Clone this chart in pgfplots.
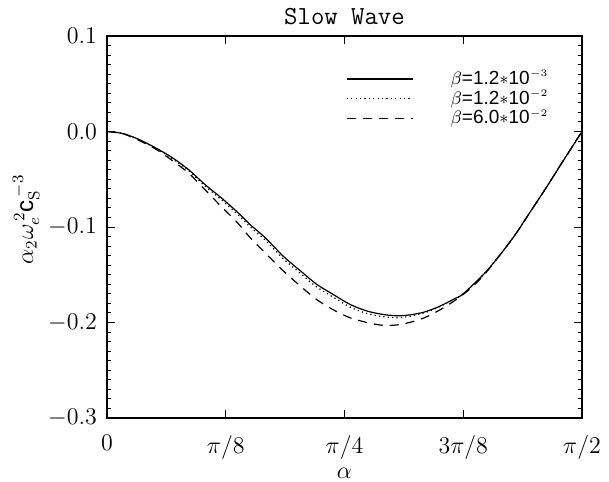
\documentclass[border=0pt]{standalone}
\usepackage{pgfplots}
\pgfplotsset{compat=1.18}
\usepackage{fontspec}
\newfontfamily\hv{Liberation Sans}
\begin{document}
\begin{tikzpicture}
\path[use as bounding box] (-53.5pt,-31.5pt) rectangle (251pt,209pt);
\begin{axis}[
  scale only axis,
  width=237.5pt, height=191pt,
  at={(0pt,0pt)}, anchor=south west,
  xmin=0, xmax=1.5708,
  ymin=-0.3, ymax=0.1,
  axis line style={line width=0.6pt},
  xtick={0,0.392699,0.785398,1.178097,1.570796},
  xticklabels={$0$,$\pi/8$,$\pi/4$,$3\pi/8$,$\pi/2$},
  ytick={-0.3,-0.2,-0.1,0,0.1},
  minor y tick num=9,
  tick align=inside,
  tick style={line width=0.5pt, black},
  major tick length=4pt,
  minor tick length=2pt,
  tick label style={font=\fontsize{12}{14}\selectfont},
  yticklabel style={/pgf/number format/fixed,/pgf/number format/fixed zerofill,/pgf/number format/precision=1, xshift=-1.5pt},
  xticklabel style={yshift=-5pt},
  scaled y ticks=false,
  title={\fontsize{13}{15}\selectfont\ttfamily Slow Wave},
  title style={at={(axis description cs:0.5,1)}, anchor=base, yshift=-0.5pt, inner sep=0pt},
  xlabel={$\alpha$},
  xlabel style={at={(axis description cs:0.5,0)}, anchor=center, yshift=-27.5pt, font=\fontsize{12}{14}\selectfont},
  ylabel={\hv$\alpha_{2}\omega_{e}^{\,2}$c$_{\mathrm{S}}^{\,-3}$},
  ylabel style={at={(axis description cs:-0.17,0.52)}, anchor=center, font=\fontsize{12}{14}\selectfont},
  legend style={draw=none, fill=none, at={(0.49,0.925)}, anchor=north west, column sep=18pt, row sep=0pt, font=\hv\fontsize{9.5}{11}\selectfont, cells={anchor=west}, nodes={inner sep=0.6pt}},
  legend image code/.code={\draw[#1] (0pt,0pt) -- (33pt,0pt);},
]
\addplot[black, line width=0.6pt, smooth] coordinates {
(0,0) (0.05,-0.002) (0.1035,-0.008) (0.16,-0.017) (0.214,-0.027) (0.27,-0.040)
(0.324,-0.0555) (0.38,-0.070) (0.434,-0.0852) (0.473,-0.0974) (0.5225,-0.111)
(0.583,-0.1306) (0.64,-0.146) (0.6935,-0.160) (0.75,-0.171) (0.8035,-0.181)
(0.86,-0.188) (0.9136,-0.1916) (0.96,-0.193) (1.002,-0.192) (1.05,-0.189)
(1.10,-0.183) (1.15,-0.175) (1.178,-0.170) (1.25,-0.148) (1.30,-0.129)
(1.35,-0.108) (1.40,-0.084) (1.45,-0.060) (1.50,-0.035) (1.5708,0)
};
\addlegendentry{$\beta$=1.2$*$10$^{\scriptscriptstyle -3}$}
\addplot[black, line width=0.6pt, smooth, dash pattern=on 0.6pt off 1.6pt] coordinates {
(0,0) (0.05,-0.002) (0.1035,-0.008) (0.16,-0.0175) (0.214,-0.028) (0.27,-0.041)
(0.324,-0.057) (0.38,-0.072) (0.434,-0.0875) (0.473,-0.0998) (0.5225,-0.1135)
(0.583,-0.1332) (0.64,-0.1487) (0.6935,-0.1628) (0.75,-0.1738) (0.8035,-0.1838)
(0.86,-0.1906) (0.9136,-0.194) (0.96,-0.195) (1.002,-0.1935) (1.05,-0.1898)
(1.10,-0.1835) (1.15,-0.175) (1.178,-0.170) (1.25,-0.148) (1.30,-0.129)
(1.35,-0.108) (1.40,-0.084) (1.45,-0.060) (1.50,-0.035) (1.5708,0)
};
\addlegendentry{$\beta$=1.2$*$10$^{\scriptscriptstyle -2}$}
\addplot[black, line width=0.6pt, smooth, dash pattern=on 4.5pt off 3.5pt] coordinates {
(0,0) (0.05,-0.002) (0.1035,-0.009) (0.159,-0.018) (0.214,-0.030) (0.269,-0.0433)
(0.324,-0.061) (0.379,-0.0789) (0.43,-0.095) (0.473,-0.111) (0.5225,-0.127)
(0.583,-0.146) (0.64,-0.162) (0.6935,-0.176) (0.75,-0.187) (0.8035,-0.195)
(0.86,-0.200) (0.9136,-0.203) (0.96,-0.2025) (1.00,-0.200) (1.05,-0.195)
(1.10,-0.187) (1.15,-0.177) (1.20,-0.165) (1.25,-0.149) (1.30,-0.129)
(1.35,-0.108) (1.40,-0.084) (1.45,-0.060) (1.50,-0.035) (1.5708,0)
};
\addlegendentry{$\beta$=6.0$*$10$^{\scriptscriptstyle -2}$}
\end{axis}
\end{tikzpicture}
\end{document}
